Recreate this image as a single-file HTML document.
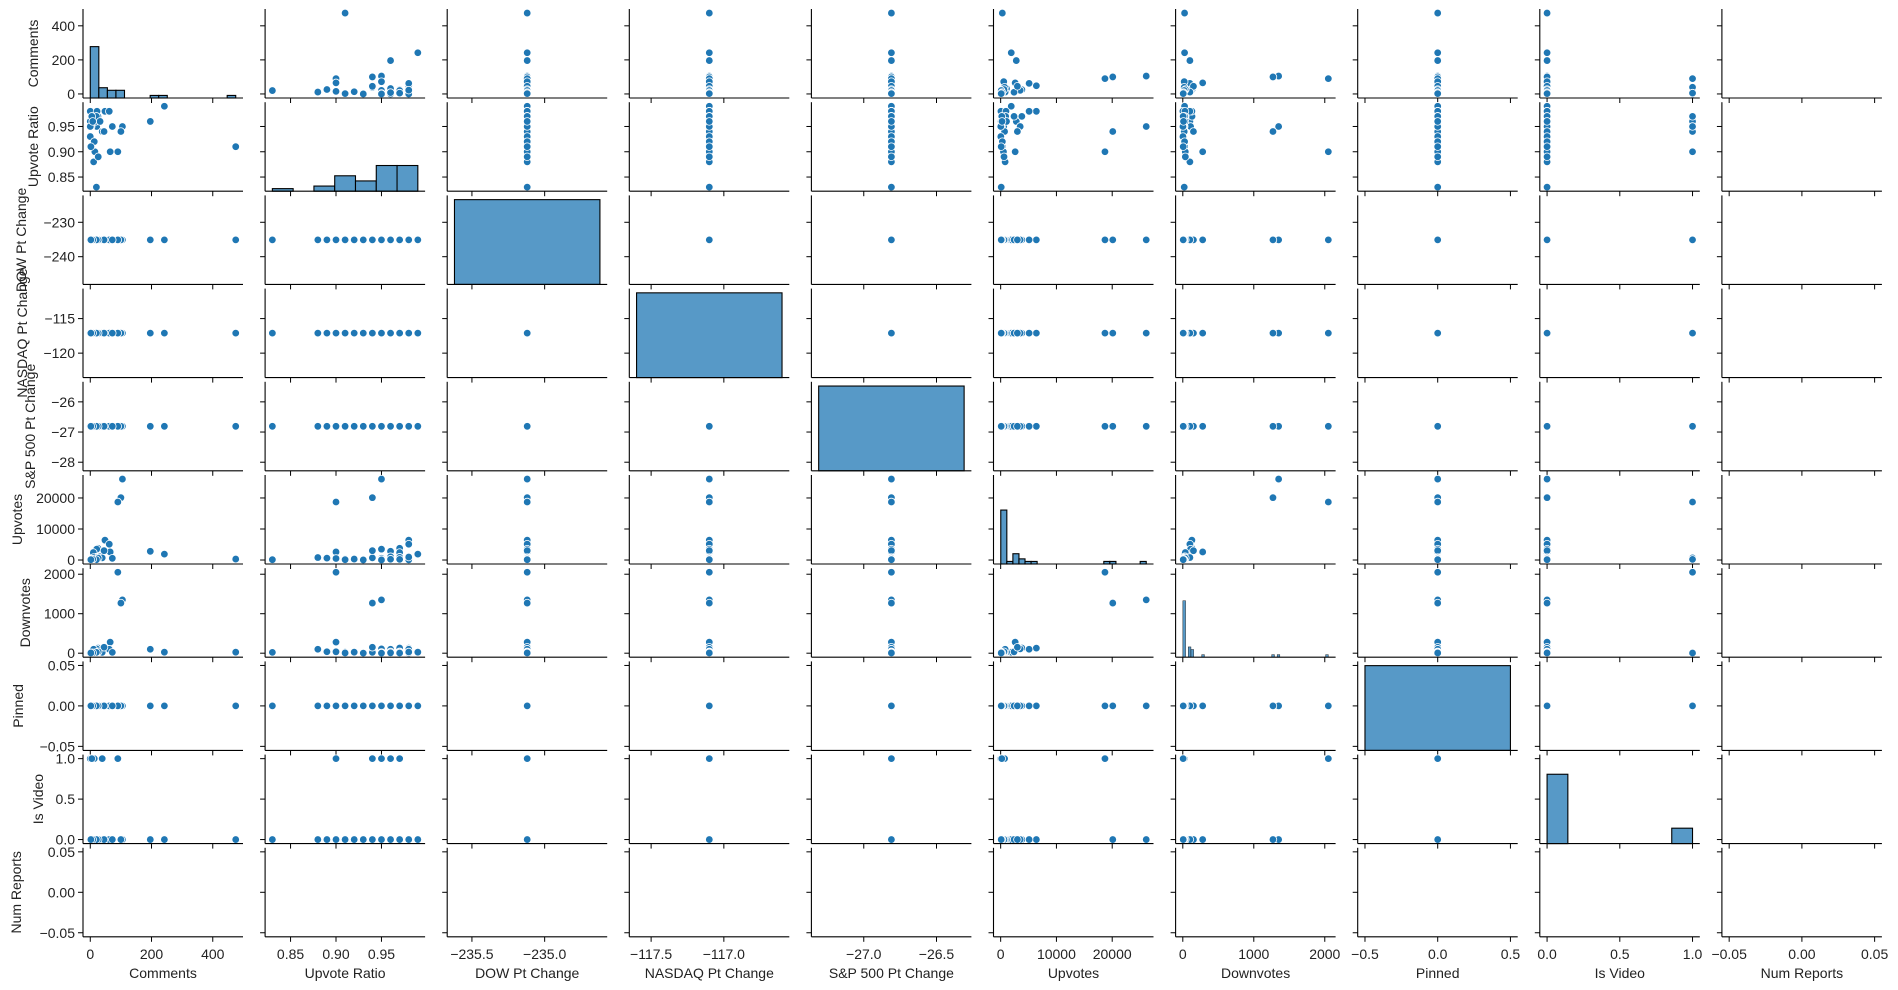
<!DOCTYPE html>
<html><head><meta charset="utf-8"><style>
html,body{margin:0;padding:0;background:#fff;}
svg{display:block;font-family:"Liberation Sans","DejaVu Sans",sans-serif;}
</style></head><body>
<svg id="chart" width="1898" height="990" viewBox="0 0 1898 990" xmlns="http://www.w3.org/2000/svg"></svg>
<script>
const varNames = ['Comments','Upvote Ratio','DOW Pt Change','NASDAQ Pt Change','S&P 500 Pt Change','Upvotes','Downvotes','Pinned','Is Video','Num Reports'];
const comments = [475,242,196,105,100,90,25,65,48,62,21,10,72,18,0,13,22,20,0,32,3,39,45,0,0,13,15,11,26,20,5,8,2];
const upvoteRatio = [0.91,0.99,0.96,0.95,0.94,0.90,0.97,0.90,0.98,0.98,0.95,0.97,0.95,0.96,0.98,0.97,0.98,0.97,0.96,0.96,0.95,0.94,0.94,0.93,0.95,0.92,0.90,0.88,0.89,0.83,0.97,0.96,0.91];
const dowChange = new Array(33).fill(-235.12);
const nasdaqChange = new Array(33).fill(-117.10);
const spChange = new Array(33).fill(-26.81);
const upvotes = [300,1900,2800,26100,20100,18700,3800,2600,6400,5100,3500,2400,550,450,50,400,950,900,80,1050,150,700,3000,30,20,300,500,800,600,100,200,250,100];
const downvotes = [25,25,100,1350,1270,2050,130,280,128,100,110,35,20,15,1,5,30,25,3,30,8,20,150,2,2,25,35,100,36,20,5,10,6];
const pinned = new Array(33).fill(0);
const isVideo = [0,0,0,0,0,1,0,0,0,0,0,0,0,0,0,1,0,0,1,0,0,1,0,0,1,0,0,0,0,0,1,0,0];
const numReports = new Array(33).fill(NaN);
const histBins = [17,7,1,1,1,24,54,1,7,1];
const xTickVals = [[0,200,400],[0.85,0.90,0.95],[-235.5,-235.0],[-117.5,-117.0],[-27.0,-26.5],[0,10000,20000],[0,1000,2000],[-0.5,0,0.5],[0,0.5,1],[-0.05,0,0.05]];
const xTickLabels = [['0','200','400'],['0.85','0.90','0.95'],['−235.5','−235.0'],['−117.5','−117.0'],['−27.0','−26.5'],['0','10000','20000'],['0','1000','2000'],['−0.5','0.0','0.5'],['0.0','0.5','1.0'],['−0.05','0.00','0.05']];
const yTickVals = [[0,200,400],[0.85,0.90,0.95],[-240,-230],[-120,-115],[-28,-27,-26],[0,10000,20000],[0,1000,2000],[-0.05,0,0.05],[0,0.5,1],[-0.05,0,0.05]];
const yTickLabels = [['0','200','400'],['0.85','0.90','0.95'],['−240','−230'],['−120','−115'],['−28','−27','−26'],['0','10000','20000'],['0','1000','2000'],['−0.05','0.00','0.05'],['0.0','0.5','1.0'],['−0.05','0.00','0.05']];
const yLabelX = [33,33,21,22,30,17,25,18,38,16];

const data = [comments,upvoteRatio,dowChange,nasdaqChange,spChange,upvotes,downvotes,pinned,isVideo,numReports];
const N = comments.length;
const svg = document.getElementById('chart');
const NS = 'http://www.w3.org/2000/svg';
function mk(tag, attrs, parent){const e=document.createElementNS(NS,tag);for(const k in attrs)e.setAttribute(k,attrs[k]);(parent||svg).appendChild(e);return e;}
function L(c){return 83+182.1*c;} const W=160;
function T(r){return 9+93.2*r;} const H=89;
function valid(a){return a.filter(v=>!isNaN(v));}
function xDom(i){const a=valid(data[i]);if(!a.length)return[-0.055,0.055];const mn=Math.min(...a),mx=Math.max(...a);
 if(mn===mx)return[mn-0.55,mn+0.55];const p=(mx-mn)*0.05;return[mn-p,mx+p];}
function yDom(i){const a=valid(data[i]);if(!a.length)return[-0.055,0.055];const mn=Math.min(...a),mx=Math.max(...a);
 if(mn===mx){if(mn===0)return[-0.055,0.055];const d=Math.abs(mn)*0.055;return[mn-d,mn+d];}const p=(mx-mn)*0.05;return[mn-p,mx+p];}
function sx(c,v){const d=xDom(c);return L(c)+(v-d[0])/(d[1]-d[0])*W;}
function sy(r,v){const d=yDom(r);return T(r)+H-(v-d[0])/(d[1]-d[0])*H;}
const countMax = N*1.05;
function sc(r,n){return T(r)+H-n/countMax*H;}

for(let r=0;r<10;r++){
 for(let c=0;c<10;c++){
  const g=mk('g',{});
  
  
  if(r===c){
   const a=valid(data[c]);
   if(a.length){
    const mn=Math.min(...a),mx=Math.max(...a);
    let lo,hi,nb=histBins[c];
    if(mn===mx){lo=mn-0.5;hi=mn+0.5;nb=1;}else{lo=mn;hi=mx;}
    const w=(hi-lo)/nb;const counts=new Array(nb).fill(0);
    a.forEach(v=>{let k=Math.floor((v-lo)/w);if(k>=nb)k=nb-1;if(k<0)k=0;counts[k]++;});
    counts.forEach((n,k)=>{
     if(!n)return;
     const x1=sx(c,lo+k*w),x2=sx(c,lo+(k+1)*w),y=sc(r,n);
     const b=mk('rect',{x:x1,y:y,width:Math.max(0.5,x2-x1),height:T(r)+H-y,fill:'#5799c7',stroke:'#000','stroke-width':nb>30?0.4:1.1},g);
     
     
    });
   }
  } else {
   for(let k=0;k<N;k++){
    const xv=data[c][k],yv=data[r][k];
    if(isNaN(xv)||isNaN(yv))continue;
    const p=mk('circle',{cx:sx(c,xv),cy:sy(r,yv),r:3.8,fill:'#1f77b4',stroke:'#fff','stroke-width':0.8},g);
    
    
   }
  }
  mk('line',{x1:L(c),y1:T(r),x2:L(c),y2:T(r)+H,stroke:'#000','stroke-width':1.1},g);
  mk('line',{x1:L(c),y1:T(r)+H,x2:L(c)+W,y2:T(r)+H,stroke:'#000','stroke-width':1.1},g);
  xTickVals[c].forEach((v,k)=>{const x=sx(c,v);mk('line',{x1:x,y1:T(r)+H,x2:x,y2:T(r)+H+5,stroke:'#000','stroke-width':1},g);
   if(r===9){const t=mk('text',{x:x,y:T(r)+H+22,'text-anchor':'middle','font-size':14,fill:'#222'},g);t.textContent=xTickLabels[c][k];
    
    }});
  yTickVals[r].forEach((v,k)=>{const y=sy(r,v);mk('line',{x1:L(c),y1:y,x2:L(c)-5,y2:y,stroke:'#000','stroke-width':1},g);
   if(c===0){const t=mk('text',{x:L(c)-8,y:y+5,'text-anchor':'end','font-size':14,fill:'#222'},g);t.textContent=yTickLabels[r][k];
    
    }});
 }
}
for(let i=0;i<10;i++){
 const t=mk('text',{x:L(i)+W/2,y:978,'text-anchor':'middle','font-size':14,fill:'#222'});t.textContent=varNames[i];
 
 
 const cy=T(i)+H/2;
 const u=mk('text',{x:yLabelX[i],y:cy,'text-anchor':'middle','font-size':14,fill:'#222',transform:'rotate(-90 '+yLabelX[i]+' '+cy+')','dominant-baseline':'central'});u.textContent=varNames[i];
 
 
}
</script>
</body></html>
